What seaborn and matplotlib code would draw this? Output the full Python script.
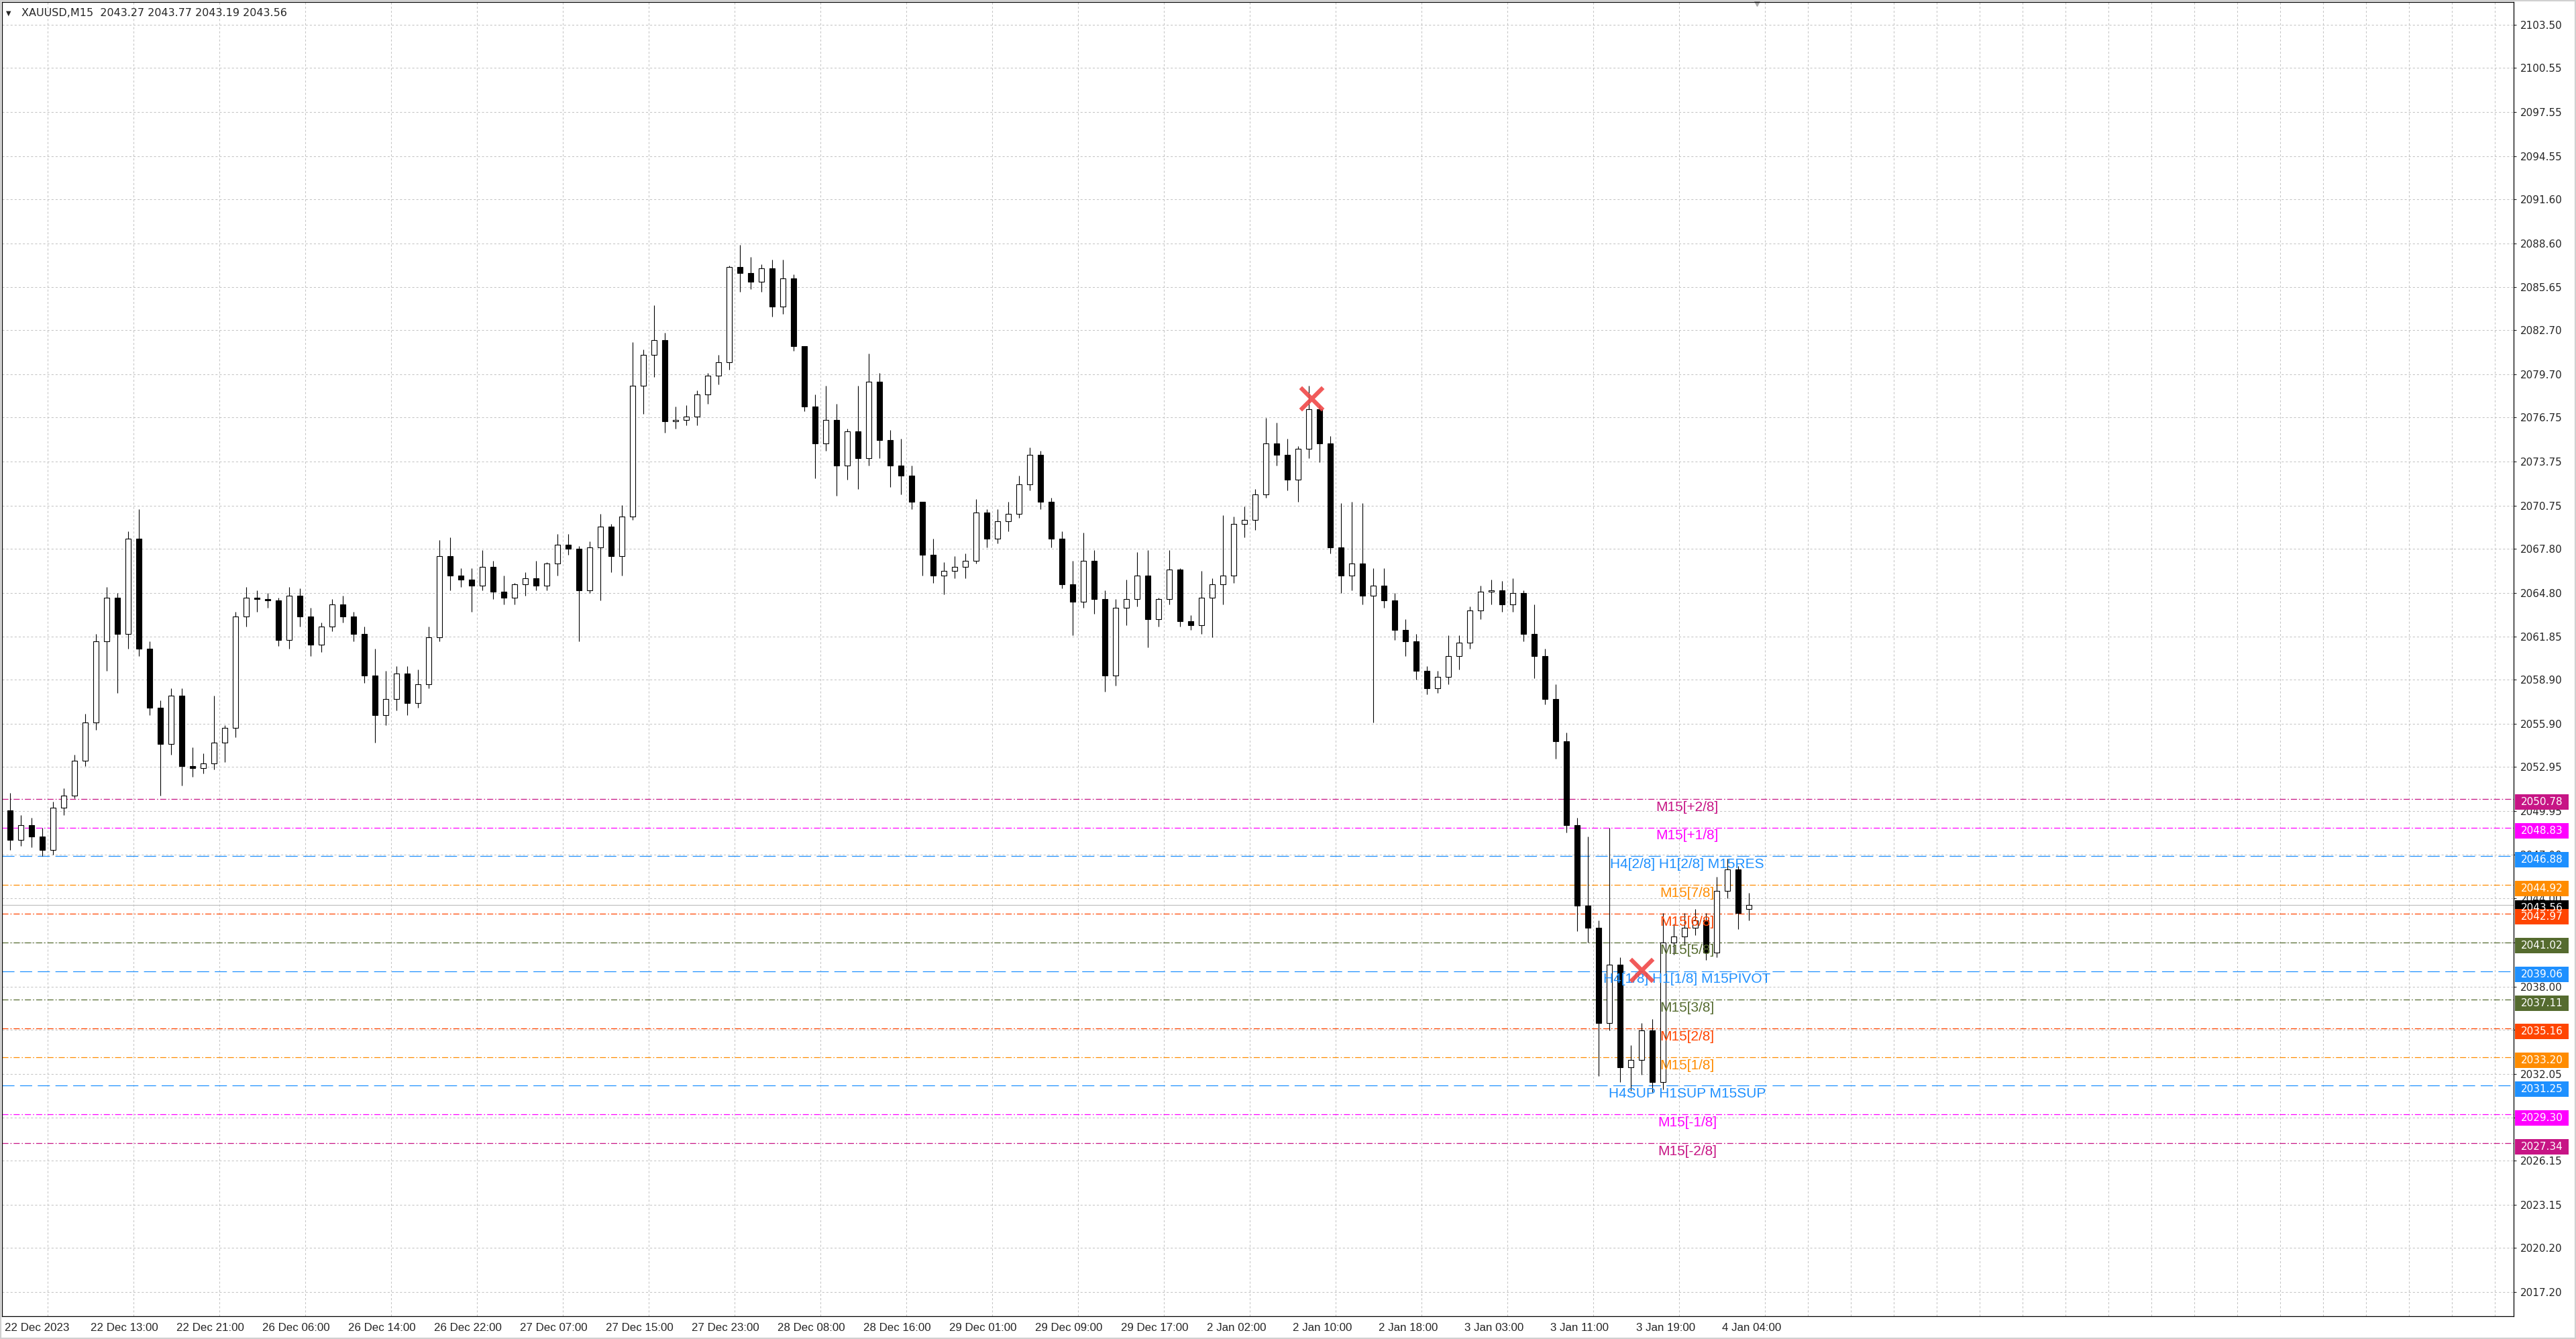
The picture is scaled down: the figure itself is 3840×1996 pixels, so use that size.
import matplotlib
matplotlib.use("Agg")
import matplotlib.pyplot as plt
import seaborn as sns
import numpy as np
import pandas as pd
from matplotlib.patches import Rectangle
from matplotlib.transforms import blended_transform_factory

# hourly candles (22 Dec 2023 05:00 .. 4 Jan 2024 06:xx)
opens = [2050.0, 2048.0, 2049.0, 2048.2, 2047.3, 2050.2, 2051.0, 2053.4, 2056.0, 2061.5,
         2064.5, 2062.0, 2068.5, 2061.0, 2057.0, 2054.5, 2057.8, 2053.0, 2052.9, 2053.2,
         2054.6, 2055.6, 2063.2, 2064.5, 2064.4, 2064.3, 2061.6, 2064.6, 2063.2, 2061.3,
         2062.5, 2064.0, 2063.2, 2062.0, 2059.2, 2056.5, 2057.6, 2059.3, 2057.3, 2058.6,
         2061.8, 2067.3, 2066.0, 2065.7, 2065.3, 2066.6, 2064.9, 2064.5, 2065.4, 2065.8,
         2065.3, 2066.8, 2068.1, 2067.8, 2065.0, 2067.9, 2069.3, 2067.3, 2070.0, 2078.9,
         2081.0, 2082.0, 2076.5, 2076.6, 2076.8, 2078.3, 2079.6, 2080.5, 2087.0, 2086.6,
         2086.0, 2086.9, 2084.3, 2086.2, 2081.6, 2077.5, 2075.0, 2076.6, 2073.5, 2075.8,
         2074.0, 2079.2, 2075.2, 2073.5, 2072.8, 2071.0, 2067.4, 2066.0, 2066.3, 2066.6,
         2067.0, 2070.3, 2068.5, 2069.7, 2070.2, 2072.2, 2074.2, 2071.0, 2068.5, 2065.4,
         2064.2, 2067.0, 2064.4, 2059.2, 2063.8, 2064.4, 2066.0, 2063.0, 2064.4, 2066.4,
         2062.9, 2062.6, 2064.5, 2065.4, 2066.0, 2069.5, 2069.8, 2071.5, 2075.0, 2074.2,
         2072.5, 2074.6, 2077.3, 2075.0, 2067.9, 2066.0, 2066.8, 2064.6, 2065.3, 2064.3,
         2062.3, 2061.5, 2059.5, 2058.3, 2059.1, 2060.5, 2061.4, 2063.6, 2064.9, 2065.0,
         2064.0, 2064.8, 2062.0, 2060.5, 2057.6, 2054.7, 2049.0, 2043.5, 2042.0, 2035.5,
         2039.5, 2032.5, 2033.0, 2035.0, 2031.5, 2041.0, 2041.4, 2042.0, 2042.5, 2040.3,
         2044.5, 2046.0, 2043.27]
highs = [2051.2, 2049.7, 2049.5, 2048.8, 2050.6, 2051.5, 2053.8, 2056.6, 2062.0, 2065.2,
         2064.8, 2069.0, 2070.5, 2061.5, 2057.5, 2058.3, 2058.3, 2054.3, 2053.9, 2057.8,
         2055.8, 2063.5, 2065.2, 2065.0, 2064.8, 2064.5, 2065.2, 2065.1, 2063.8, 2062.8,
         2064.4, 2064.6, 2063.5, 2062.5, 2061.0, 2059.5, 2059.8, 2059.8, 2059.6, 2062.5,
         2068.4, 2068.6, 2066.5, 2066.5, 2067.7, 2067.0, 2066.0, 2065.5, 2066.2, 2067.0,
         2066.9, 2068.8, 2068.8, 2068.0, 2068.3, 2070.2, 2069.5, 2070.8, 2081.9, 2081.4,
         2084.4, 2082.5, 2077.5, 2077.6, 2078.6, 2079.8, 2081.0, 2087.1, 2088.5, 2087.7,
         2087.2, 2087.5, 2087.5, 2086.5, 2081.6, 2078.3, 2078.9, 2077.7, 2076.0, 2078.9,
         2081.1, 2079.8, 2075.9, 2075.3, 2073.5, 2071.0, 2068.5, 2066.9, 2067.3, 2067.5,
         2071.2, 2070.5, 2070.5, 2071.0, 2072.8, 2074.7, 2074.5, 2071.3, 2069.0, 2067.0,
         2068.9, 2067.7, 2065.0, 2064.4, 2065.7, 2067.6, 2067.7, 2064.5, 2067.7, 2066.5,
         2063.3, 2066.3, 2065.8, 2070.1, 2070.0, 2070.7, 2071.9, 2076.7, 2076.4, 2075.3,
         2074.8, 2078.9, 2077.6, 2075.5, 2070.9, 2071.0, 2070.9, 2066.5, 2066.5, 2064.8,
         2063.0, 2062.0, 2059.8, 2059.5, 2061.9, 2061.9, 2063.9, 2065.3, 2065.7, 2065.6,
         2065.8, 2065.0, 2064.0, 2061.0, 2058.6, 2055.3, 2049.5, 2048.2, 2042.5, 2048.8,
         2040.0, 2034.0, 2035.5, 2035.8, 2043.0, 2042.3, 2043.0, 2043.3, 2043.0, 2045.5,
         2046.7, 2046.2, 2044.4]
lows = [2047.3, 2047.6, 2047.5, 2046.9, 2047.0, 2049.7, 2050.8, 2053.0, 2055.5, 2059.5,
        2058.0, 2061.0, 2060.5, 2056.5, 2051.0, 2053.8, 2051.7, 2052.3, 2052.5, 2052.8,
        2053.3, 2055.0, 2062.5, 2063.5, 2063.8, 2061.2, 2061.0, 2062.5, 2060.5, 2060.8,
        2062.2, 2062.8, 2061.5, 2058.7, 2054.6, 2055.8, 2056.8, 2056.5, 2057.0, 2058.3,
        2061.5, 2065.0, 2065.2, 2063.5, 2065.0, 2064.4, 2064.0, 2064.0, 2064.6, 2065.0,
        2065.0, 2066.0, 2067.4, 2061.5, 2064.8, 2064.3, 2066.2, 2066.0, 2069.8, 2077.0,
        2079.5, 2075.7, 2076.0, 2076.2, 2076.2, 2077.7, 2079.0, 2080.0, 2085.3, 2085.5,
        2085.3, 2083.6, 2083.8, 2081.3, 2077.2, 2072.6, 2074.5, 2071.4, 2072.5, 2071.9,
        2073.5, 2074.0, 2072.0, 2071.5, 2070.5, 2066.0, 2065.5, 2064.7, 2065.8, 2065.8,
        2066.8, 2067.9, 2068.2, 2069.0, 2069.9, 2071.8, 2070.5, 2067.9, 2065.1, 2061.9,
        2063.8, 2063.4, 2058.1, 2058.5, 2062.6, 2063.9, 2061.1, 2062.5, 2064.0, 2062.5,
        2062.3, 2062.0, 2061.8, 2064.0, 2065.5, 2068.6, 2069.1, 2071.3, 2073.5, 2071.8,
        2071.0, 2074.0, 2073.7, 2067.5, 2064.8, 2065.0, 2064.0, 2056.0, 2063.8, 2061.6,
        2060.5, 2058.9, 2057.9, 2058.0, 2058.6, 2059.6, 2061.0, 2063.0, 2064.0, 2063.5,
        2063.5, 2061.5, 2059.0, 2057.2, 2053.5, 2048.5, 2041.8, 2041.0, 2031.9, 2035.0,
        2031.5, 2030.9, 2032.0, 2030.8, 2031.0, 2040.2, 2040.8, 2041.5, 2039.8, 2040.0,
        2044.0, 2041.9, 2042.5]
closes = [2048.0, 2049.0, 2048.2, 2047.3, 2050.2, 2051.0, 2053.4, 2056.0, 2061.5, 2064.5,
          2062.0, 2068.5, 2061.0, 2057.0, 2054.5, 2057.8, 2053.0, 2052.9, 2053.2, 2054.6,
          2055.6, 2063.2, 2064.5, 2064.4, 2064.3, 2061.6, 2064.6, 2063.2, 2061.3, 2062.5,
          2064.0, 2063.2, 2062.0, 2059.2, 2056.5, 2057.6, 2059.3, 2057.3, 2058.6, 2061.8,
          2067.3, 2066.0, 2065.7, 2065.3, 2066.6, 2064.9, 2064.5, 2065.4, 2065.8, 2065.3,
          2066.8, 2068.1, 2067.8, 2065.0, 2067.9, 2069.3, 2067.3, 2070.0, 2078.9, 2081.0,
          2082.0, 2076.5, 2076.6, 2076.8, 2078.3, 2079.6, 2080.5, 2087.0, 2086.6, 2086.0,
          2086.9, 2084.3, 2086.2, 2081.6, 2077.5, 2075.0, 2076.6, 2073.5, 2075.8, 2074.0,
          2079.2, 2075.2, 2073.5, 2072.8, 2071.0, 2067.4, 2066.0, 2066.3, 2066.6, 2067.0,
          2070.3, 2068.5, 2069.7, 2070.2, 2072.2, 2074.2, 2071.0, 2068.5, 2065.4, 2064.2,
          2067.0, 2064.4, 2059.2, 2063.8, 2064.4, 2066.0, 2063.0, 2064.4, 2066.4, 2062.9,
          2062.6, 2064.5, 2065.4, 2066.0, 2069.5, 2069.8, 2071.5, 2075.0, 2074.2, 2072.5,
          2074.6, 2077.3, 2075.0, 2067.9, 2066.0, 2066.8, 2064.6, 2065.3, 2064.3, 2062.3,
          2061.5, 2059.5, 2058.3, 2059.1, 2060.5, 2061.4, 2063.6, 2064.9, 2065.0, 2064.0,
          2064.8, 2062.0, 2060.5, 2057.6, 2054.7, 2049.0, 2043.5, 2042.0, 2035.5, 2039.5,
          2032.5, 2033.0, 2035.0, 2031.5, 2041.0, 2041.4, 2042.0, 2042.5, 2040.3, 2044.5,
          2046.0, 2043.0, 2043.56]

last_bar = [2043.27, 2043.77, 2043.19, 2043.56]

x_labels = ["22 Dec 2023", "22 Dec 13:00", "22 Dec 21:00", "26 Dec 06:00", "26 Dec 14:00",
            "26 Dec 22:00", "27 Dec 07:00", "27 Dec 15:00", "27 Dec 23:00", "28 Dec 08:00",
            "28 Dec 16:00", "29 Dec 01:00", "29 Dec 09:00", "29 Dec 17:00", "2 Jan 02:00",
            "2 Jan 10:00", "2 Jan 18:00", "3 Jan 03:00", "3 Jan 11:00", "3 Jan 19:00",
            "4 Jan 04:00"]

y_ticks = [2103.50, 2100.55, 2097.55, 2094.55, 2091.60, 2088.60, 2085.65, 2082.70, 2079.70,
           2076.75, 2073.75, 2070.75, 2067.80, 2064.80, 2061.85, 2058.90, 2055.90, 2052.95,
           2049.95, 2047.00, 2044.00, 2041.00, 2038.00, 2035.05, 2032.05, 2029.10, 2026.15,
           2023.15, 2020.20, 2017.20]

# murrey math levels
level_prices = [2050.78, 2048.83, 2046.88, 2044.92, 2042.97, 2041.02, 2039.06,
                2037.11, 2035.16, 2033.20, 2031.25, 2029.30, 2027.34]
level_names = ["M15[+2/8]", "M15[+1/8]", "H4[2/8] H1[2/8] M15RES", "M15[7/8]", "M15[6/8]",
               "M15[5/8]", "H4[1/8] H1[1/8] M15PIVOT", "M15[3/8]", "M15[2/8]", "M15[1/8]",
               "H4SUP H1SUP M15SUP", "M15[-1/8]", "M15[-2/8]"]
level_colors = ["#C71585", "#FF00FF", "#1E90FF", "#FF8C00", "#FF4500", "#556B2F", "#1E90FF",
                "#556B2F", "#FF4500", "#FF8C00", "#1E90FF", "#FF00FF", "#C71585"]

cross_bars = [487, 610]
cross_prices = [2078.05, 2039.15]

sns.set_style("white")
plt.rcParams["font.family"] = ["DejaVu Sans"]
plt.rcParams["lines.scale_dashes"] = False

W, H = 3840, 1996
fig = plt.figure(figsize=(W / 100, H / 100), dpi=100)
ax = fig.add_axes([3 / W, 34 / H, 3744 / W, 1959 / H])
ymin, ymax = 2015.56, 2105.04
px = (ymax - ymin) / 1959  # price per pixel

df = pd.DataFrame({"o": opens, "h": highs, "l": lows, "c": closes})
df["bar"] = 4 * np.arange(len(df)) + 2.0
up = df.c >= df.o
body_lo = np.minimum(df.o, df.c)
body_h = np.maximum((df.c - df.o).abs(), 0.08)

ax.vlines(df.bar, df.l, df.h, color="black", lw=0.8, zorder=3)
ax.bar(df.bar, body_h, bottom=body_lo, width=2.0,
       color=np.where(up, "white", "black"), edgecolor="black", linewidth=0.8, zorder=4)

# current price line
ax.axhline(last_bar[3], color="#C0C0C0", lw=0.9, zorder=2)

for p, name, col in zip(level_prices, level_names, level_colors):
    if col == "#1E90FF":
        ls = (0, (13, 6))
    else:
        ls = (0, (6.5, 2.2, 1.2, 2.2))
    ax.axhline(p, color=col, lw=0.9, linestyle=ls, zorder=2)
    ax.annotate(name, xy=(627, p), xytext=(0, -2), textcoords="offset points",
                ha="center", va="top", color=col, fontsize=15,
                family=["Liberation Sans", "DejaVu Sans"], zorder=6)

ax.scatter(cross_bars, cross_prices, marker="x", s=24 ** 2, linewidths=4.5,
           color="#F04848", alpha=0.9, zorder=7)

ax.set_xlim(-0.9, 935)
ax.set_ylim(ymin, ymax)

ax.set_xticks(np.arange(len(x_labels)) * 32)
ax.set_xticklabels(x_labels, ha="left", fontsize=12.2,
                   family=["Liberation Sans", "DejaVu Sans"])
ax.set_xticks(np.arange(0, 936, 16), minor=True)
ax.tick_params(axis="x", which="major", length=3, width=0.8, pad=4, direction="out")
ax.tick_params(axis="x", which="minor", length=0)

ax.yaxis.tick_right()
ax.set_yticks(y_ticks)
ax.set_yticklabels([f"{v:.2f}" for v in y_ticks], fontsize=11)
ax.tick_params(axis="y", length=3, width=0.8, pad=4, direction="out")

ax.grid(True, axis="x", which="minor", color="#C4C4C4", lw=0.75, linestyle=(0, (2.2, 2.2)))
ax.grid(True, axis="y", which="major", color="#C4C4C4", lw=0.75, linestyle=(0, (2.2, 2.2)))
ax.set_axisbelow(True)
for s in ax.spines.values():
    s.set_color("black")
    s.set_linewidth(0.9)

# price boxes on the right scale
tr = blended_transform_factory(ax.transAxes, ax.transData)
bx0, bw = 2 / 3744 + 1, 80 / 3744
boxes = [(last_bar[3], "black")] + list(zip(level_prices, level_colors))
for p, col in boxes:
    ax.add_patch(Rectangle((bx0, p - 16.5 * px), bw, 23 * px, transform=tr,
                           facecolor=col, edgecolor="none", clip_on=False, zorder=8))
    ax.text(bx0 + bw / 2, p - 5 * px, f"{p:.2f}", transform=tr, ha="center", va="center",
            color="white", fontsize=11, clip_on=False, zorder=9)

# chart shift marker
ax.plot([653], [1.0], marker="v", color="#A8A8A8", ms=9,
        transform=blended_transform_factory(ax.transData, ax.transAxes), clip_on=False)

title = "XAUUSD,M15  " + " ".join(f"{v:.2f}" for v in last_bar)
fig.text(32 / W, 1 - 20 / H, title, fontsize=11.5, va="center", ha="left")
fig.text(9 / W, 1 - 20 / H, "\u25bc", fontsize=7, va="center", ha="left")
fig.add_artist(Rectangle((0, 0), 1, 1, transform=fig.transFigure, fill=False,
                         edgecolor="#D0D0D0", lw=3))

fig.savefig("out.png", dpi=100)
